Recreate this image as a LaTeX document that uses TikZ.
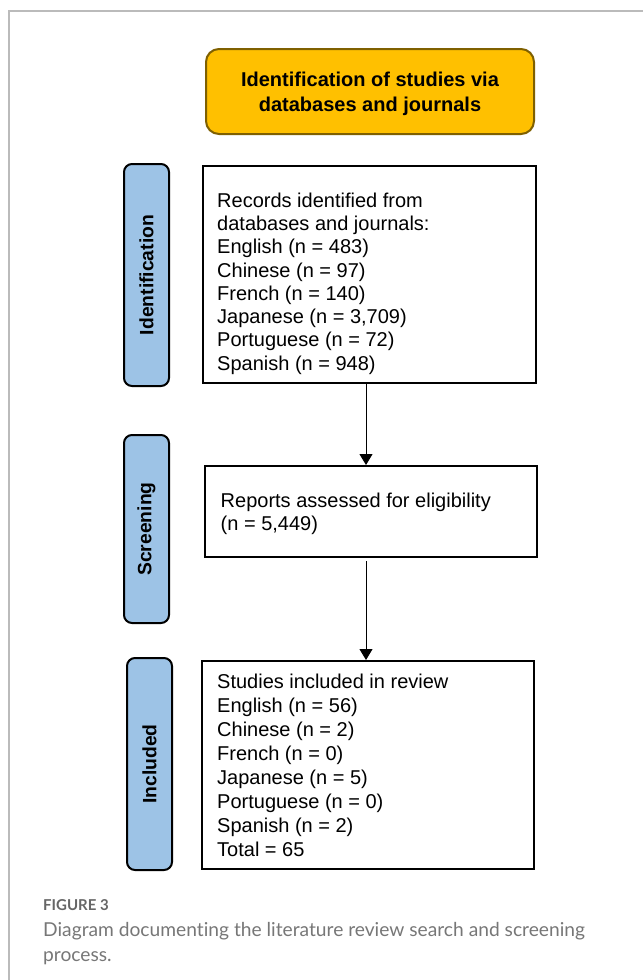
\documentclass[tikz,border=0pt]{standalone}
\usepackage{fontspec}
\setmainfont{Liberation Sans}
\newfontfamily\capfont[Ligatures=NoCommon]{Lato}
\usetikzlibrary{arrows.meta}
\definecolor{gold}{HTML}{FFC000}
\definecolor{goldline}{HTML}{7F6000}
\definecolor{phase}{HTML}{9DC3E6}
\definecolor{framegray}{HTML}{BBBBBB}
\definecolor{capgray}{HTML}{666666}
\definecolor{capgraylight}{HTML}{777777}
\tikzset{
  stagebox/.style={draw=black, line width=2pt, inner sep=0pt},
  phasebox/.style={draw=black, line width=2pt, fill=phase, rounded corners=8pt, minimum width=45pt, inner sep=0pt},
  phasetext/.style={rotate=90, inner sep=0pt, font=\bfseries\fontsize{19.3}{23}\selectfont},
  bodytext/.style={anchor=north west, inner sep=0pt, align=left},
  flowarrow/.style={draw=black, line width=1pt, -{Triangle[length=11pt,width=13pt]}},
  framestyle/.style={draw=framegray, line width=2pt},
  captext/.style={anchor=base west, inner sep=0pt, text=capgraylight, font=\capfont\fontsize{19.2}{24}\selectfont}
}
\begin{document}
\begin{tikzpicture}[x=1pt,y=-1pt]
\useasboundingbox (0,0) rectangle (643,980);
\fill[white] (0,0) rectangle (643,980);
% frame
\coordinate (fbl) at (9,980);
\coordinate (ftl) at (9,11);
\coordinate (ftr) at (643,11);
\draw[framestyle] (fbl) -- (ftl) -- (ftr);
% title
\node[draw=goldline, line width=2pt, fill=gold, rounded corners=13pt,
      minimum width=328pt, minimum height=85pt, inner sep=0pt] (title) at (370,91.5) {};
\node[align=center, inner sep=0pt, font=\bfseries\fontsize{20}{25}\selectfont] (titletxt) at (370,94.3)
  {Identification of studies via\\databases and journals};
% phase labels
\node[phasebox, minimum height=222pt] (pid) at (146.5,275) {};
\node[phasetext] (pidt) at (pid.center) {Identification};
\node[phasebox, minimum height=188pt] (psc) at (146.5,529) {};
\node[phasetext] (psct) at (psc.center) {Screening};
\node[phasebox, minimum height=212pt] (pin) at (149.5,764) {};
\node[phasetext] (pint) at (pin.center) {Included};
% stage boxes
\node[stagebox, minimum width=333pt, minimum height=217pt] (rec) at (369.5,274.5) {};
\node[bodytext, font=\fontsize{20}{23.3}\selectfont] (rectxt) at (217,192.5)
  {Records identified from\\databases and journals:\\English (n = 483)\\Chinese (n = 97)\\French (n = 140)\\Japanese (n = 3,709)\\Portuguese (n = 72)\\Spanish (n = 948)};
\node[stagebox, minimum width=332pt, minimum height=91pt] (scr) at (371,511.5) {};
\node[bodytext, font=\fontsize{20}{23.3}\selectfont] (scrtxt) at (220.5,492.5)
  {Reports assessed for eligibility\\(n = 5,449)};
\node[stagebox, minimum width=332pt, minimum height=208pt] (inc) at (368,765) {};
\node[bodytext, font=\fontsize{20}{24}\selectfont] (inctxt) at (217,673.5)
  {Studies included in review\\English (n = 56)\\Chinese (n = 2)\\French (n = 0)\\Japanese (n = 5)\\Portuguese (n = 0)\\Spanish (n = 2)\\Total = 65};
% arrows
\coordinate (ax) at (366,0);
\draw[flowarrow] (rec.south -| ax) -- (scr.north -| ax);
\draw[flowarrow, shorten <=3pt] (scr.south -| ax) -- (inc.north -| ax);
% caption
\node[anchor=base west, inner sep=0pt, text=capgray, font=\capfont\bfseries\fontsize{15}{17}\selectfont] (figlabel) at (43,910.7) {FIGURE 3};
\node[captext] (capline1) at (43,936.5) {Diagram documenting the literature review search and screening};
\node[captext] (capline2) at (43,961) {process.};
\end{tikzpicture}
\end{document}
